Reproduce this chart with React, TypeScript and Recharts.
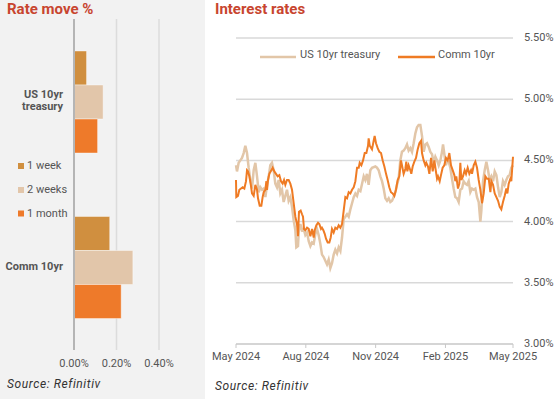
import React from 'react';
import { BarChart, Bar, XAxis, YAxis, CartesianGrid, ReferenceLine, LineChart, Line } from 'recharts';

// left panel: rate move %
const categories = ['US 10yr treasury', 'Comm 10yr'];
const oneWeek = [0.059, 0.168];
const twoWeeks = [0.137, 0.277];
const oneMonth = [0.111, 0.222];
const moveTicks = [0, 0.2, 0.4];

// right panel: interest rates, x = days since 1 May 2024
const tsyDays = [
  0, 1.3, 3.5, 5.7, 7.9, 10.1, 12.3, 14.5, 16.7, 18.9, 21.1, 23.3, 25.5, 27.7, 29.9, 32.1, 34.3, 36.5, 38.7, 40.9,
  43.1, 45.2, 47.4, 49.6, 51.8, 54, 56.2, 58.4, 60.6, 62.8, 65, 67.2, 69.4, 71.6, 73.8, 76, 78.2, 79.5, 81.7, 82.6,
  84.8, 87, 89.2, 91.4, 93.6, 95.8, 98, 100.2, 102.4, 104.6, 106.7, 108.9, 111.1, 113.3, 115.5, 117.7, 119.9, 122.1,
  124.3, 126.5, 128.7, 130.9, 133.1, 135.3, 137.5, 139.7, 141.9, 144.1, 146.3, 148.5, 150.7, 152.9, 155.1, 157.3,
  159.5, 161.7, 163.9, 166.1, 168.3, 170.4, 172.6, 174.8, 177, 179.2, 183.6, 185.8, 188, 190.2, 192.4, 194.6, 196.8,
  199, 201.2, 203.4, 205.6, 207.8, 210, 212.1, 214.3, 216.5, 218.7, 220.9, 223.1, 225.3, 227.5, 229.7, 231.9, 234.1,
  236.3, 238.5, 240.7, 242.9, 245.1, 247.3, 249.5, 251.7, 253.9, 256.1, 258.3, 260.5, 262.7, 264.9, 267.1, 269.3,
  271.5, 272.8, 275, 276.7, 278, 280.2, 282.4, 284.6, 286.8, 289, 291.2, 293.4, 295.6, 297.8, 300, 302.2, 304.4,
  306.6, 308.8, 311, 313.2, 315.4, 317.6, 319.8, 322, 323.3, 325.5, 327.7, 329.9, 332.1, 334.3, 336.5, 338.7, 340.9,
  343.1, 345.3, 347.5, 349.6, 351.8, 354, 356.2, 358.4, 360.6, 362.8, 365,
];
const tsyRates = [
  4.46, 4.41, 4.48, 4.5, 4.52, 4.56, 4.62, 4.56, 4.44, 4.34, 4.27, 4.42, 4.48, 4.37, 4.24, 4.28, 4.26, 4.27, 4.2, 4.3,
  4.37, 4.46, 4.48, 4.42, 4.31, 4.28, 4.34, 4.23, 4.26, 4.16, 4.21, 4.26, 4.17, 4.2, 4.12, 4.01, 3.93, 3.79, 3.8, 3.91,
  3.98, 3.93, 3.94, 3.89, 3.91, 3.84, 3.8, 3.83, 3.82, 3.9, 3.94, 3.89, 3.82, 3.73, 3.71, 3.68, 3.65, 3.69,
  3.62, 3.66, 3.73, 3.77, 3.74, 3.79, 3.76, 3.87, 4.02, 4.04, 4.06, 4.04, 4.1, 4.15, 4.2, 4.23,
  4.21, 4.26, 4.25, 4.31, 4.37, 4.34, 4.39, 4.3, 4.42, 4.44, 4.45, 4.44, 4.42, 4.37, 4.33, 4.27, 4.19,
  4.17, 4.19, 4.16, 4.17, 4.2, 4.24, 4.3, 4.35, 4.5, 4.57, 4.58, 4.6, 4.63, 4.58, 4.6, 4.57, 4.64,
  4.72, 4.77, 4.79, 4.79, 4.7, 4.57, 4.63, 4.64, 4.61, 4.57, 4.55, 4.48, 4.53, 4.5, 4.46, 4.5,
  4.57, 4.63, 4.53, 4.46, 4.5, 4.49, 4.44, 4.35, 4.27, 4.2, 4.19, 4.16, 4.26, 4.27, 4.33, 4.31, 4.3,
  4.33, 4.24, 4.27, 4.26, 4.27, 4.2, 4.16, 4.0, 4.09, 4.33, 4.42, 4.49, 4.42, 4.34, 4.37, 4.33, 4.41,
  4.38, 4.28, 4.2, 4.24, 4.33, 4.3, 4.34, 4.37, 4.38, 4.44, 4.46,
];
const commDays = [
  0, 0.4, 2.6, 4.4, 6.6, 8.8, 11, 13.2, 14.5, 15.8, 17.6, 19.3, 21.1, 23.3, 25.5, 27.7, 29, 31.2, 33.4, 35.1, 36.5,
  38.7, 40, 40.9, 42.2, 43.9, 46.6, 48.3, 50.5, 52.7, 54.9, 57.1, 59.3, 61.5, 63.3, 65, 67.2, 69.4, 71.6, 73.8, 76,
  78.2, 80.4, 81.7, 83, 85.2, 87, 88.3, 89.6, 91.4, 93.6, 95.8, 98, 100.2, 102.4, 103.7, 105.9, 108.1, 109.8, 112,
  113.3, 115.1, 116.9, 118.6, 120.8, 123, 124.8, 126.5, 128.7, 130.9, 133.1, 135.3, 137.5, 139.7, 141.9, 144.1,
  146.3, 148.5, 150.7, 152.9, 155.1, 157.3, 159.5, 161.7, 163, 165.2, 167.4, 169.6, 171.8, 174, 174.8, 176.2,
  179.2, 181.4, 182.7, 184.5, 186.7, 188.9, 191.1, 193.3, 195.5, 197.7, 199.8, 202, 204.2, 206.4, 208.6, 210.8,
  213, 215.2, 217.4, 218.7, 220.9, 223.1, 224.4, 225.8, 227.5, 229.7, 231, 232.8, 235, 237.2, 239.4, 241.6, 243.8,
  245.1, 247.3, 249.5, 250.8, 253, 254.8, 257, 259.2, 261.4, 262.7, 264.9, 266.2, 268.4, 270.1, 272.3, 274.5,
  276.7, 278.9, 281.1, 283.3, 285.5, 287.7, 289, 290.3, 292.5, 294.3, 295.6, 296.9, 299.1, 301.3, 303.1, 305.3,
  307.5, 309.7, 311, 313.2, 315.4, 317.6, 319.8, 322, 324.2, 326.4, 328.6, 330.8, 333, 335.2, 336.5, 338.7, 340.9,
  343.1, 345.3, 347.5, 349.6, 351.8, 354, 356.2, 357.6, 359.3, 361.5, 362.8, 364.1, 365,
];
const commRates = [
  4.34, 4.2, 4.21, 4.26, 4.27, 4.28, 4.27, 4.33, 4.42, 4.41, 4.37, 4.31, 4.23, 4.21, 4.3, 4.26, 4.19, 4.13, 4.13, 4.2, 4.24,
  4.26, 4.33, 4.26, 4.34, 4.39, 4.42, 4.44, 4.41, 4.39, 4.37, 4.38, 4.33, 4.31, 4.34, 4.3, 4.34, 4.34, 4.31, 4.26, 4.15,
  4.04, 3.98, 3.88, 4.08, 4.09, 4.06, 4.04, 3.94, 3.93, 3.95, 3.94, 3.88, 3.94, 3.87, 3.93, 3.97, 3.99, 3.98, 3.94,
  3.95, 3.93, 3.9, 3.86, 3.83, 3.83, 3.87, 3.94, 3.91, 3.95, 3.94, 3.97, 3.95, 3.98, 4.09, 4.2,
  4.19, 4.24, 4.23, 4.26, 4.28, 4.33, 4.44, 4.44, 4.48, 4.46, 4.5, 4.56, 4.56, 4.62, 4.68, 4.62,
  4.59, 4.66, 4.7, 4.64, 4.6, 4.57, 4.56, 4.5, 4.45, 4.39, 4.34, 4.28, 4.24, 4.23, 4.21, 4.26,
  4.34, 4.37, 4.5, 4.46, 4.39, 4.43, 4.49, 4.41, 4.46, 4.42, 4.39, 4.45, 4.49, 4.52, 4.59, 4.64, 4.66,
  4.56, 4.5, 4.46, 4.48, 4.45, 4.39, 4.52, 4.41, 4.5, 4.44, 4.35, 4.37, 4.33, 4.38, 4.44, 4.46,
  4.52, 4.5, 4.56, 4.46, 4.42, 4.38, 4.33, 4.37, 4.27, 4.31, 4.48, 4.34, 4.37, 4.42, 4.39, 4.44,
  4.39, 4.42, 4.39, 4.46, 4.49, 4.44, 4.34, 4.26, 4.15, 4.23, 4.37, 4.35, 4.35, 4.24, 4.33, 4.3, 4.23,
  4.2, 4.17, 4.12, 4.1, 4.16, 4.21, 4.27, 4.23, 4.31, 4.35, 4.33, 4.45, 4.53,
];
const rateTicks = [3, 3.5, 4, 4.5, 5, 5.5];
const dateTicks = [0, 92, 184, 276, 365];
const dateLabels = ['May 2024', 'Aug 2024', 'Nov 2024', 'Feb 2025', 'May 2025'];

const FONT = 'Roboto, sans-serif';
const TEXT = '#555555';
const TITLE = '#c8452f';
const C_WEEK = '#d08f3f';
const C_2WEEKS = '#e2c6aa';
const C_MONTH = '#ee7a2a';
const C_TSY = '#e2c6a8';
const C_COMM = '#ef7b24';

const moveData = categories.map((cat, i) => ({
  cat,
  w1: oneWeek[i],
  w2: twoWeeks[i],
  m1: oneMonth[i],
}));
const tsyData = tsyDays.map((day, i) => ({ day, rate: tsyRates[i] }));
const commData = commDays.map((day, i) => ({ day, rate: commRates[i] }));

const CategoryTick = (props: any) => {
  const { x, y, payload } = props;
  const words = String(payload.value).split(' ');
  const lines = words.length > 2 ? [words.slice(0, 2).join(' '), words.slice(2).join(' ')] : [payload.value];
  const first = lines.length > 1 ? -4 : 3;
  return (
    <text x={x - 3} y={y} textAnchor="end" fill={TEXT} fontSize={11} fontWeight={700} fontFamily={FONT}>
      {lines.map((l, i) => (
        <tspan key={i} x={x - 3} dy={i === 0 ? first : 12.5}>
          {l}
        </tspan>
      ))}
    </text>
  );
};

const MoveTick = (props: any) => {
  const { x, y, payload } = props;
  return (
    <text x={x} y={y} dy={9} textAnchor="middle" fill={TEXT} fontSize={11} fontFamily={FONT}>
      {payload.value.toFixed(2) + '%'}
    </text>
  );
};

const RateTick = (props: any) => {
  const { x, y, payload } = props;
  return (
    <text x={x + 3} y={y} dy={3} textAnchor="start" fill={TEXT} fontSize={11} fontFamily={FONT}>
      {payload.value.toFixed(2) + '%'}
    </text>
  );
};

const DateTick = (props: any) => {
  const { x, y, payload } = props;
  return (
    <text x={x} y={y} dy={10} textAnchor="middle" fill={TEXT} fontSize={11} fontFamily={FONT}>
      {dateLabels[dateTicks.indexOf(payload.value)]}
    </text>
  );
};

const moveLegend = [
  { label: '1 week', color: C_WEEK, y: 169 },
  { label: '2 weeks', color: C_2WEEKS, y: 193 },
  { label: '1 month', color: C_MONTH, y: 216.5 },
];

export default function App() {
  return (
    <div style={{ position: 'absolute', left: 0, top: 0, width: 555, height: 399, background: '#fff', fontFamily: FONT }}>
      <div style={{ position: 'absolute', left: 0, top: 0, width: 205, height: 399, background: '#f2f2f2' }} />

      <div style={{ position: 'absolute', left: 0, top: 0 }}>
        <BarChart
          width={205}
          height={399}
          data={moveData}
          layout="vertical"
          margin={{ top: 19, right: 46, bottom: 19, left: 0 }}
          barSize={34}
          barGap={0}
        >
          <CartesianGrid horizontal={false} stroke="#dcdcdc" strokeWidth={1.5} />
          <XAxis
            type="number"
            domain={[0, 0.4]}
            ticks={moveTicks}
            axisLine={false}
            tickLine={false}
            height={30}
            tick={<MoveTick />}
          />
          <YAxis type="category" dataKey="cat" width={74} axisLine={false} tickLine={false} tick={<CategoryTick />} />
          <Bar dataKey="w1" fill={C_WEEK} stroke="#ffffff" strokeOpacity={0.4} isAnimationActive={false} />
          <Bar dataKey="w2" fill={C_2WEEKS} stroke="#ffffff" strokeOpacity={0.4} isAnimationActive={false} />
          <Bar dataKey="m1" fill={C_MONTH} stroke="#ffffff" strokeOpacity={0.4} isAnimationActive={false} />
          <ReferenceLine x={0} stroke="#b5b5b5" strokeWidth={2} />
        </BarChart>
      </div>

      <div style={{ position: 'absolute', left: 205, top: 0 }}>
        <LineChart width={350} height={399} margin={{ top: 38, right: 0, bottom: 25, left: 31 }}>
          <CartesianGrid vertical={false} stroke="#d9d9d9" strokeWidth={1.5} />
          <XAxis
            type="number"
            dataKey="day"
            domain={[0, 365]}
            ticks={dateTicks}
            height={30}
            stroke="#c8c8c8"
            tickSize={4}
            tick={<DateTick />}
            allowDuplicatedCategory={false}
          />
          <YAxis
            orientation="right"
            type="number"
            domain={[3, 5.5]}
            ticks={rateTicks}
            width={42}
            axisLine={false}
            tickLine={false}
            tick={<RateTick />}
          />
          <Line
            data={tsyData}
            dataKey="rate"
            type="linear"
            stroke={C_TSY}
            strokeWidth={2.5}
            dot={false}
            isAnimationActive={false}
          />
          <Line
            data={commData}
            dataKey="rate"
            type="linear"
            stroke={C_COMM}
            strokeWidth={2}
            dot={false}
            isAnimationActive={false}
          />
        </LineChart>
      </div>

      <svg width={555} height={399} style={{ position: 'absolute', left: 0, top: 0, pointerEvents: 'none' }}>
        <text x={7} y={14} fill={TITLE} fontSize={15} fontWeight={700} fontFamily={FONT}>
          Rate move %
        </text>
        <text x={215} y={14} fill={TITLE} fontSize={15} fontWeight={700} fontFamily={FONT}>
          Interest rates
        </text>

        {moveLegend.map((l) => (
          <g key={l.label}>
            <rect x={18} y={l.y - 6} width={6} height={6} fill={l.color} />
            <text x={27} y={l.y} fill={TEXT} fontSize={11} fontFamily={FONT}>
              {l.label}
            </text>
          </g>
        ))}

        <line x1={260} x2={296} y1={57} y2={57} stroke={C_TSY} strokeWidth={2.5} />
        <text x={300} y={58} fill={TEXT} fontSize={11} fontFamily={FONT}>
          US 10yr treasury
        </text>
        <line x1={398} x2={435} y1={57} y2={57} stroke={C_COMM} strokeWidth={2.5} />
        <text x={438} y={58} fill={TEXT} fontSize={11} fontFamily={FONT}>
          Comm 10yr
        </text>

        <text x={7} y={388} fill="#333" fontSize={12} letterSpacing={0.6} fontStyle="italic" fontFamily={FONT}>
          Source: Refinitiv
        </text>
        <text x={215} y={390} fill="#333" fontSize={12} letterSpacing={0.6} fontStyle="italic" fontFamily={FONT}>
          Source: Refinitiv
        </text>
      </svg>
    </div>
  );
}
